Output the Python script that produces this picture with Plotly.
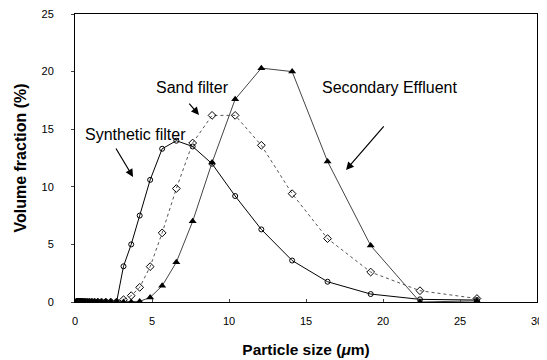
import plotly.graph_objects as go

zero_sizes = [0.1, 0.11, 0.13, 0.15, 0.18, 0.21, 0.24, 0.28, 0.33, 0.38, 0.44, 0.51,
              0.6, 0.69, 0.81, 0.94, 1.09, 1.27, 1.48, 1.72, 2.0, 2.32]
sizes = [2.7, 3.15, 3.65, 4.2, 4.88, 5.66, 6.58, 7.64, 8.9, 10.4, 12.1, 14.1, 16.4, 19.2, 22.4, 26.1]

synthetic = [0.0, 3.1, 5.0, 7.5, 10.6, 13.3, 14.0, 13.5, 12.0, 9.2, 6.3, 3.6, 1.76, 0.69, 0.23, 0.17]
sand = [0.0, 0.2, 0.55, 1.27, 3.07, 6.0, 9.85, 13.8, 16.2, 16.2, 13.6, 9.4, 5.5, 2.6, 0.98, 0.3]
secondary = [0.0, 0.0, 0.0, 0.05, 0.4, 1.4, 3.45, 7.0, 12.1, 17.6, 20.3, 20.0, 12.2, 4.9, 0.0, 0.1]

x_all = zero_sizes + sizes
z = [0.0] * len(zero_sizes)

fig = go.Figure()
fig.add_trace(go.Scatter(x=x_all, y=z + synthetic, mode="lines+markers", name="Synthetic filter",
                         line=dict(color="black", width=1),
                         marker=dict(symbol="circle-open", size=5, color="black", line=dict(width=1))))
fig.add_trace(go.Scatter(x=x_all, y=z + sand, mode="lines+markers", name="Sand filter",
                         line=dict(color="#555", width=1, dash="dot"),
                         marker=dict(symbol="diamond-open", size=6, color="black", line=dict(width=1))))
fig.add_trace(go.Scatter(x=x_all, y=z + secondary, mode="lines+markers", name="Secondary Effluent",
                         line=dict(color="#444", width=1),
                         marker=dict(symbol="triangle-up", size=7, color="black")))

font = "Liberation Sans, Arial, sans-serif"
anns = [
    dict(x=3.77, y=10.85, ax=-18, ay=-30),
    dict(x=8.05, y=16.23, ax=-11, ay=-13),
    dict(x=17.6, y=11.46, ax=39, ay=-45),
]
for a in anns:
    fig.add_annotation(x=a["x"], y=a["y"], ax=a["ax"], ay=a["ay"], text="", showarrow=True,
                       arrowhead=2, arrowsize=1.3, arrowwidth=1.2, arrowcolor="black")
for t, x, y in [("Synthetic filter", 3.9, 14.5), ("Sand filter", 7.66, 18.58), ("Secondary Effluent", 20.4, 18.58)]:
    fig.add_annotation(x=x, y=y, text=t, showarrow=False, font=dict(family=font, size=16, color="black"))

# page body has an 8px default margin; figure is sized to fit the 547x360 window
fig.update_layout(
    width=539, height=352, margin=dict(l=67, r=10, t=6, b=58),
    paper_bgcolor="white", plot_bgcolor="white", showlegend=False,
    font=dict(family=font, color="black"),
)
fig.update_xaxes(range=[0, 30], tickvals=[0, 5, 10, 15, 20, 25, 30], ticks="inside", ticklen=3,
                 showgrid=False, zeroline=False, showline=True, linecolor="black", linewidth=1, mirror=True,
                 automargin=False, ticklabeloverflow="allow", ticklabelstandoff=9,
                 tickfont=dict(size=11), title=dict(text="<b>Particle size (<i>μ</i>m)</b>", font=dict(size=15.5), standoff=17))
fig.update_yaxes(range=[0, 25], tickvals=[0, 5, 10, 15, 20, 25], ticks="outside", ticklen=3,
                 showgrid=False, zeroline=False, showline=True, linecolor="black", linewidth=1, mirror=True,
                 automargin=False, ticklabeloverflow="allow", ticklabelstandoff=15,
                 tickfont=dict(size=11), title=dict(text="<b>Volume fraction (%)</b>", font=dict(size=16), standoff=10))

fig.write_html("out.html")
